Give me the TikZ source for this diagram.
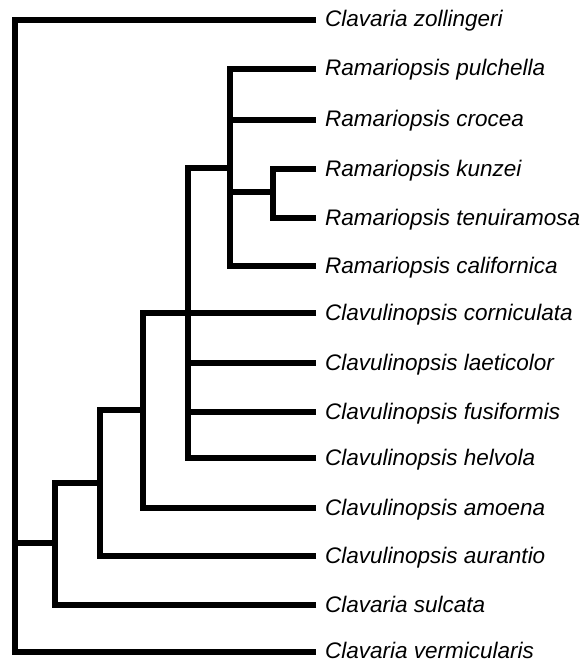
\documentclass[tikz,border=0pt]{standalone}
\usepackage{fontspec}
\setmainfont{Liberation Sans}
\begin{document}
\begin{tikzpicture}[x=1pt,y=-1pt,
  br/.style={line width=6.5pt,line join=miter,line cap=butt},
  leaf/.style={anchor=base west,inner sep=0pt,font=\fontsize{22.5}{26}\selectfont\itshape}]
\useasboundingbox (0,0) rectangle (583,663);
% leaf labels
\node[leaf] (zol) at (325,27) {Clavaria zollingeri};
\node[leaf] (pul) at (325,76) {Ramariopsis pulchella};
\node[leaf] (cro) at (325,127) {Ramariopsis crocea};
\node[leaf] (kun) at (325,176) {Ramariopsis kunzei};
\node[leaf] (ten) at (325,225) {Ramariopsis tenuiramosa};
\node[leaf] (cal) at (325,273) {Ramariopsis californica};
\node[leaf] (cor) at (325,320) {Clavulinopsis corniculata};
\node[leaf] (lae) at (325,370) {Clavulinopsis laeticolor};
\node[leaf] (fus) at (325,419) {Clavulinopsis fusiformis};
\node[leaf] (hel) at (325,465) {Clavulinopsis helvola};
\node[leaf] (amo) at (325,515) {Clavulinopsis amoena};
\node[leaf] (aur) at (325,563) {Clavulinopsis aurantio};
\node[leaf] (sul) at (325,612) {Clavaria sulcata};
\node[leaf] (ver) at (325,658.5) {Clavaria vermicularis};
% leaf ends
\coordinate (zole) at (316,20);
\coordinate (pule) at (316,69);
\coordinate (croe) at (316,120);
\coordinate (kune) at (316,169);
\coordinate (tene) at (316,218);
\coordinate (cale) at (316,266);
\coordinate (core) at (316,313);
\coordinate (laee) at (316,363);
\coordinate (fuse) at (316,412);
\coordinate (hele) at (316,458);
\coordinate (amoe) at (316,508);
\coordinate (aure) at (316,556);
\coordinate (sule) at (316,605);
\coordinate (vere) at (316,652);
% internal nodes
\coordinate (root) at (15,543);
\coordinate (n1) at (55,543);
\coordinate (n2) at (100,483);
\coordinate (n3) at (143,410);
\coordinate (n4) at (188,313);
\coordinate (n5) at (230,168);
\coordinate (n6) at (273,192);
% branches
\draw[br] (zole) -- (root |- zole) -- (root |- vere) -- (vere);
\draw[br] (root) -- (n1);
\draw[br] (sule) -- (n1 |- sule) -- (n1 |- n2) -- (n2);
\draw[br] (aure) -- (n2 |- aure) -- (n2 |- n3) -- (n3);
\draw[br] (core) -- (n3 |- core) -- (n3 |- amoe) -- (amoe);
\draw[br] (hele) -- (n4 |- hele) -- (n4 |- n5) -- (n5);
\draw[br] (n4 |- laee) -- (laee);
\draw[br] (n4 |- fuse) -- (fuse);
\draw[br] (pule) -- (n5 |- pule) -- (n5 |- cale) -- (cale);
\draw[br] (n5 |- croe) -- (croe);
\draw[br] (n5 |- n6) -- (n6);
\draw[br] (kune) -- (n6 |- kune) -- (n6 |- tene) -- (tene);
\end{tikzpicture}
\end{document}
